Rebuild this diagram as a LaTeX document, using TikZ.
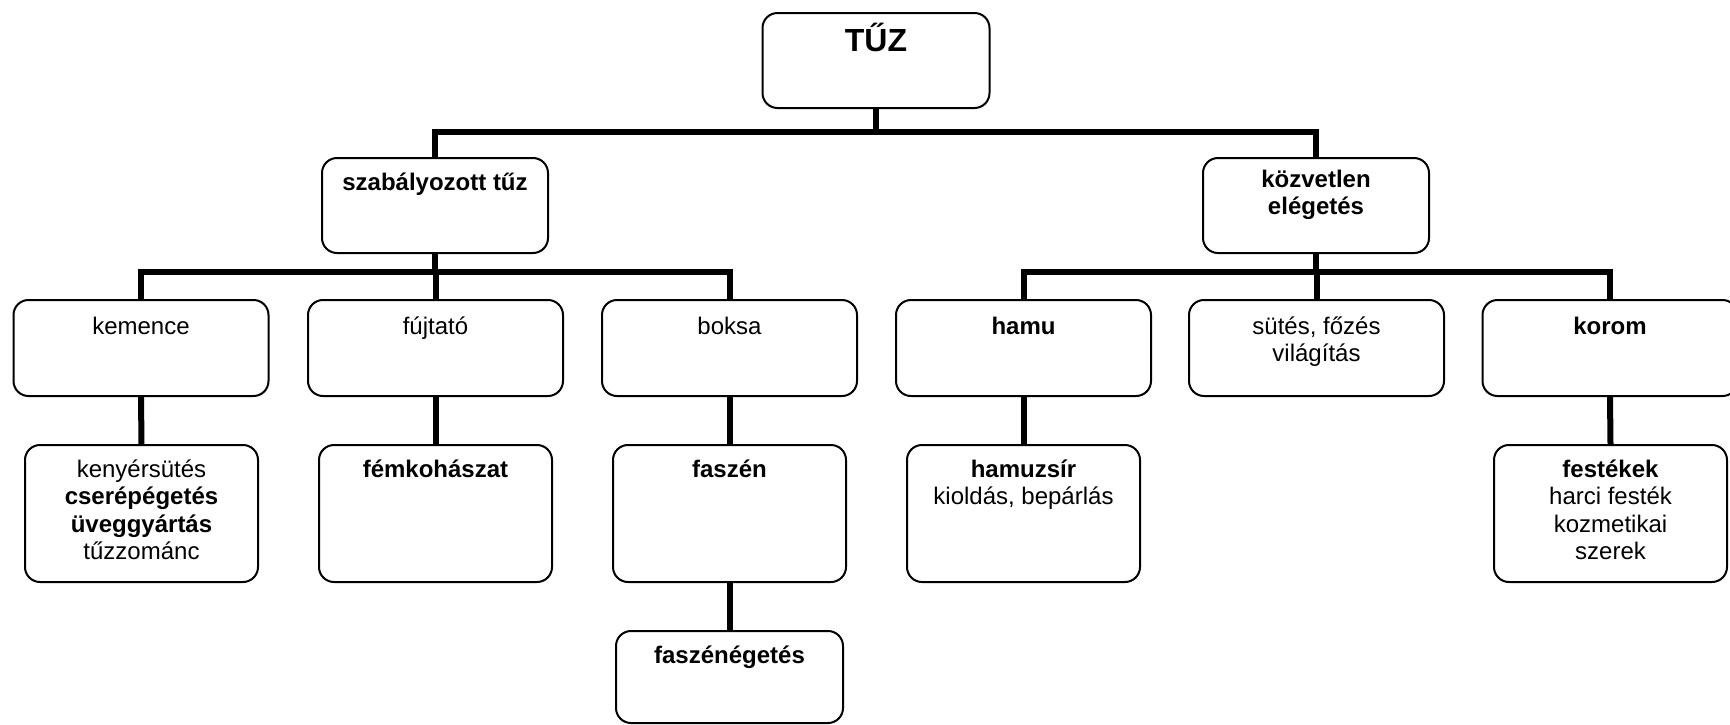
\documentclass[tikz,border=0pt]{standalone}
\usepackage{fontspec}
\setmainfont{Liberation Sans}
\newcommand\boxtxt[4]{\parbox[c][#2][t]{#1}{\centering\fontsize{12}{13.8}\selectfont\rule{0pt}{#3}#4}}
\begin{document}
\begin{tikzpicture}[x=0.5pt,y=-0.5pt,
  bx/.style={draw=black,line width=1pt,rounded corners=7.5pt,fill=white,inner sep=0pt,anchor=north},
  conn/.style={line width=3pt,line join=miter}]
\useasboundingbox (0,0) rectangle (1730,724);
\fill[white] (0,0) rectangle (1730,724);
\clip (0,0) rectangle (1730,724);
% level 0/1
\node[bx] (tuz) at (876,12) {\boxtxt{113.5pt}{47.5pt}{19pt}{\fontsize{16}{18}\selectfont\bfseries TŰZ}};
\node[bx] (szab) at (435,157) {\boxtxt{113pt}{47.5pt}{16pt}{\bfseries szabályozott tűz}};
\node[bx] (kozv) at (1316,157) {\boxtxt{113pt}{47.5pt}{14.5pt}{\bfseries közvetlen\\elégetés}};
% level 2
\node[bx] (kem) at (141,299) {\boxtxt{127.5pt}{48pt}{17pt}{kemence}};
\node[bx] (fujt) at (435.5,299) {\boxtxt{127.5pt}{48pt}{17pt}{fújtató}};
\node[bx] (boksa) at (729.5,299) {\boxtxt{127.5pt}{48pt}{17pt}{boksa}};
\node[bx] (hamu) at (1023.5,299) {\boxtxt{127.5pt}{48pt}{17pt}{\bfseries hamu}};
\node[bx] (sutes) at (1316.5,299) {\boxtxt{127.5pt}{48pt}{17pt}{sütés, főzés\\világítás}};
\node[bx] (korom) at (1610,299) {\boxtxt{127.5pt}{48pt}{17pt}{\bfseries korom}};
% level 3
\node[bx] (keny) at (141.5,444) {\boxtxt{116.5pt}{68.5pt}{16pt}{kenyérsütés\\\textbf{cserépégetés}\\\textbf{üveggyártás}\\tűzzománc}};
\node[bx] (femk) at (435.5,444) {\boxtxt{116.5pt}{68.5pt}{16pt}{\bfseries fémkohászat}};
\node[bx] (faszen) at (729.5,444) {\boxtxt{116.5pt}{68.5pt}{16pt}{\bfseries faszén}};
\node[bx] (hamuzs) at (1023.5,444) {\boxtxt{116.5pt}{68.5pt}{16pt}{\textbf{hamuzsír}\\kioldás, bepárlás}};
\node[bx] (festek) at (1610.5,444) {\boxtxt{116.5pt}{68.5pt}{16pt}{\textbf{festékek}\\harci festék\\kozmetikai\\szerek}};
% level 4
\node[bx] (faszeg) at (729.5,630) {\boxtxt{113.5pt}{46pt}{16pt}{\bfseries faszénégetés}};
% connectors
\coordinate (r1) at (0,132);
\coordinate (r2) at (0,272);
\draw[conn] (tuz.south) -- (tuz.south |- r1);
\draw[conn] (szab.north) -- (szab.north |- r1) -- (kozv.north |- r1) -- (kozv.north);
\draw[conn] (szab.south) -- (szab.south |- r2);
\draw[conn] (kem.north) -- (kem.north |- r2) -- (boksa.north |- r2) -- (boksa.north);
\draw[conn] (fujt.north) -- (fujt.north |- r2);
\draw[conn] (kozv.south) -- (kozv.south |- r2);
\draw[conn] (hamu.north) -- (hamu.north |- r2) -- (korom.north |- r2) -- (korom.north);
\draw[conn] (sutes.north) -- (sutes.north |- r2);
\draw[conn] (kem.south) -- (keny.north);
\draw[conn] (fujt.south) -- (femk.north);
\draw[conn] (boksa.south) -- (faszen.north);
\draw[conn] (hamu.south) -- (hamuzs.north);
\draw[conn] (korom.south) -- (festek.north);
\draw[conn] (faszen.south) -- (faszeg.north);
\end{tikzpicture}
\end{document}
